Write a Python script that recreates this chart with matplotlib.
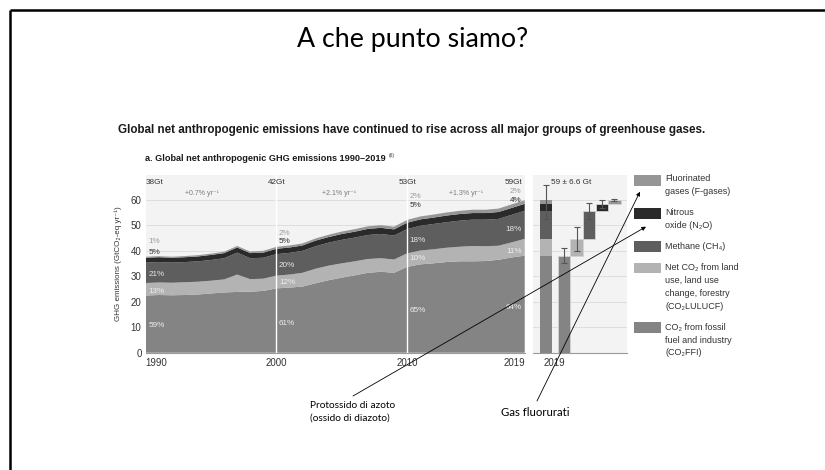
import matplotlib
matplotlib.use("Agg")
import matplotlib.pyplot as plt
from matplotlib.patches import Rectangle

# ---------------- data ----------------
years = list(range(1990, 2020))
co2_ffi = [22.4, 22.6, 22.5, 22.6, 22.8, 23.2, 23.6, 23.8, 23.9, 24.2,
           25.2, 25.5, 25.9, 27.2, 28.4, 29.4, 30.3, 31.3, 31.7, 31.3,
           33.6, 34.6, 35.0, 35.5, 35.8, 35.8, 35.9, 36.4, 37.3, 38.0]
co2_lulucf = [4.9, 4.9, 4.9, 5.0, 5.0, 5.0, 5.1, 6.8, 4.9, 4.8,
              5.0, 5.1, 5.4, 5.7, 5.7, 5.6, 5.5, 5.4, 5.3, 5.2,
              5.3, 5.4, 5.5, 5.6, 5.7, 6.0, 5.8, 5.5, 5.9, 6.6]
ch4 = [8.0, 8.0, 7.9, 7.9, 8.0, 8.1, 8.3, 8.6, 8.2, 8.2,
       8.4, 8.5, 8.6, 8.8, 9.0, 9.2, 9.3, 9.4, 9.5, 9.4,
       9.5, 9.7, 9.9, 10.0, 10.2, 10.3, 10.4, 10.5, 10.8, 11.0]
n2o = [1.9, 1.9, 1.9, 1.9, 1.9, 2.0, 2.0, 2.0, 2.0, 2.0,
       2.1, 2.1, 2.1, 2.2, 2.2, 2.3, 2.3, 2.4, 2.4, 2.4,
       2.5, 2.5, 2.5, 2.6, 2.6, 2.6, 2.6, 2.7, 2.7, 2.7]
fgas = [0.4, 0.4, 0.4, 0.45, 0.5, 0.5, 0.55, 0.6, 0.6, 0.7,
        0.75, 0.8, 0.8, 0.85, 0.9, 0.95, 1.0, 1.0, 1.05, 1.05,
        1.1, 1.15, 1.2, 1.2, 1.25, 1.3, 1.3, 1.35, 1.4, 1.4]

gas_names = ["Fluorinated\ngases (F-gases)", "Nitrous\noxide (N\u2082O)", "Methane (CH\u2084)",
             "Net CO\u2082 from land\nuse, land use\nchange, forestry\n(CO\u2082LULUCF)",
             "CO\u2082 from fossil\nfuel and industry\n(CO\u2082FFI)"]

label_years = [1990, 2000, 2010, 2019]
total_labels = ["38Gt", "42Gt", "53Gt", "59Gt"]
growth_labels = ["+0.7% yr\u207b\u00b9", "+2.1% yr\u207b\u00b9", "+1.3% yr\u207b\u00b9"]
share_fgas = ["1%", "2%", "2%", "2%"]
share_n2o = ["5%", "5%", "5%", "4%"]
share_ch4 = ["21%", "20%", "18%", "18%"]
share_lulucf = ["13%", "12%", "10%", "11%"]
share_ffi = ["59%", "61%", "65%", "64%"]

# 2019 uncertainty panel: FFI, LULUCF, CH4, N2O, F-gases
wf_values = [38.0, 6.6, 11.0, 2.7, 1.4]
wf_errors = [3.0, 4.6, 3.2, 1.6, 0.41]
total_2019 = 59.0
total_2019_err = 6.6

# ---------------- style ----------------
C_FFI = "#848484"
C_LUL = "#b3b3b3"
C_CH4 = "#5e5e5e"
C_N2O = "#2a2a2a"
C_FG = "#969696"
PANEL = "#f3f3f3"
GRID = "#dedede"
NARROW = ["Liberation Sans", "DejaVu Sans"]
SLIDE = ["Lato", "DejaVu Sans"]

W, H = 825, 470
fig = plt.figure(figsize=(W / 100, H / 100), dpi=100)
fig.patch.set_facecolor("white")


def px_axes(x0, y0, x1, y1):
    return fig.add_axes([x0 / W, 1 - y1 / H, (x1 - x0) / W, (y1 - y0) / H])


YMAX = 69.6
# ---------------- main area chart ----------------
ax = px_axes(145.7, 175, 524.7, 352.7)
ax.set_facecolor(PANEL)
ax.stackplot(years, co2_ffi, co2_lulucf, ch4, n2o, fgas,
             colors=[C_FFI, C_LUL, C_CH4, C_N2O, C_FG], linewidth=0, zorder=2)
ax.set_xlim(1990, 2019)
ax.set_ylim(0, YMAX)
ax.set_yticks(range(0, 61, 10))
for v in range(10, 61, 10):
    ax.axhline(v, color=GRID, lw=0.7, zorder=1)
for yr in (2000, 2010):
    ax.axvline(yr, color="white", lw=1.0, zorder=3)
for s in ["top", "right", "left"]:
    ax.spines[s].set_visible(False)
ax.spines["bottom"].set_color("#9a9a9a")
ax.spines["bottom"].set_linewidth(0.8)
ax.tick_params(axis="y", length=0, pad=3, labelsize=7.0, labelcolor="#333333")
ax.tick_params(axis="x", length=0, pad=4, labelsize=7.0, labelcolor="#333333")
ax.set_xticks(label_years)
ax.set_xticklabels([str(y) for y in label_years])
xt = ax.get_xticklabels()
xt[0].set_ha("left")
xt[-1].set_ha("right")
for t in ax.get_xticklabels() + ax.get_yticklabels():
    t.set_family(NARROW)
ax.set_ylabel("GHG emissions (GtCO\u2082-eq yr\u207b\u00b9)", fontsize=5.8,
              family=NARROW, color="#333333", labelpad=6)

# totals and growth rates
for yr, lab in zip(label_years, total_labels):
    ha = "left" if yr == 1990 else ("right" if yr == 2019 else "center")
    xx = yr + (-0.15 if yr == 2019 else 0)
    ax.text(xx, 66.6, lab, ha=ha, va="center", fontsize=5.9, family=NARROW,
            color="#333333", zorder=5)
for (a, b), lab in zip([(1990, 2000), (2000, 2010), (2010, 2019)], growth_labels):
    xm = {1990: 1994.3, 2000: 2004.8, 2010: 2014.5}[a]
    ax.text(xm, 62.4, lab, ha="center", va="center", fontsize=5.0, family=NARROW,
            color="#7a7a7a", zorder=5)

# share labels
share_pos = {1990: [43.4, 39.4, 30.7, 24.0, 10.8],
             2000: [46.5, 43.6, 34.2, 27.3, 11.6],
             2010: [61.0, 57.6, 43.9, 36.7, 16.7],
             2019: [63.1, 59.5, 48.3, 39.8, 17.8]}
share_cols = ["#9c9c9c", "#333333", "#e6e6e6", "#eeeeee", "#eeeeee"]
for i, yr in enumerate(label_years):
    labs = [share_fgas[i], share_n2o[i], share_ch4[i], share_lulucf[i], share_ffi[i]]
    if yr == 2019:
        xx, ha = yr - 0.25, "right"
    else:
        xx, ha = yr + 0.2, "left"
    for lab, yy, col in zip(labs, share_pos[yr], share_cols):
        ax.text(xx, yy, lab, ha=ha, va="center", fontsize=5.9, family=NARROW,
                color=col, zorder=5)

# ---------------- 2019 uncertainty panel ----------------
bx = px_axes(533, 175, 627, 352.7)
bx.set_facecolor(PANEL)
bx.set_xlim(-1.03, 6.43)
bx.set_ylim(0, YMAX)
for v in range(10, 61, 10):
    bx.axhline(v, color=GRID, lw=0.7, zorder=1)
cols = [C_FFI, C_LUL, C_CH4, C_N2O, C_FG]
bottom = 0
for val, col in zip(wf_values, cols):
    bx.bar(0, val, bottom=bottom, width=0.95, color=col, linewidth=0, zorder=2)
    bottom += val
bx.errorbar(0, total_2019, yerr=total_2019_err, color="#555555", lw=0.8,
            capsize=2.5, capthick=0.8, zorder=4)
base = 0
for i, (val, err, col) in enumerate(zip(wf_values, wf_errors, cols)):
    xpos = 1.43 + i
    bx.bar(xpos, val, bottom=base, width=0.98, color=col,
           edgecolor="#d4d4d4", linewidth=0.6, zorder=2)
    bx.errorbar(xpos, base + val, yerr=err, color="#555555", lw=0.8,
                capsize=2.5, capthick=0.8, zorder=4)
    base += val
bx.text(2.0, 66.6, f"{total_2019:.0f} \u00b1 {total_2019_err} Gt", ha="center",
        va="center", fontsize=5.9, family=NARROW, color="#333333")
for s in ["top", "right", "left"]:
    bx.spines[s].set_visible(False)
bx.spines["bottom"].set_color("#9a9a9a")
bx.spines["bottom"].set_linewidth(0.8)
bx.set_yticks([])
bx.set_xticks([0.7])
bx.set_xticklabels(["2019"])
bx.tick_params(axis="x", length=0, pad=4, labelsize=7.0, labelcolor="#333333")
for t in bx.get_xticklabels():
    t.set_family(NARROW)

# ---------------- overlay: slide texts, legend, arrows ----------------
ov = fig.add_axes([0, 0, 1, 1], zorder=10)
ov.set_xlim(0, W)
ov.set_ylim(H, 0)
ov.axis("off")
ov.patch.set_alpha(0)

# slide frame
ov.plot([9.5, 9.5], [9.5, H], color="black", lw=1.8, solid_capstyle="butt")
ov.plot([9.5, W], [9.5, 9.5], color="black", lw=1.8, solid_capstyle="butt")

ov.text(413, 40, "A che punto siamo?", ha="center", va="center", fontsize=19.3,
        family=SLIDE, color="black")
ov.text(412, 130, "Global net anthropogenic emissions have continued to rise across all major groups of greenhouse gases.",
        ha="center", va="center", fontsize=8.4, family=NARROW, fontweight="bold",
        color="#1a1a1a")
ov.text(145, 158.5, "a. Global net anthropogenic GHG emissions 1990\u20132019",
        ha="left", va="center", fontsize=6.6, family=NARROW, fontweight="bold",
        color="#1a1a1a")
ov.text(389, 156, "(6)", ha="left", va="center", fontsize=3.6, family=NARROW,
        color="#333333")

# legend
leg_boxes = [(175, 185.7), (208, 219), (241, 251.7), (262.7, 273.3), (322.3, 333)]
leg_text_y = [179.3, 212.7, 246.7, 268.3, 327.7]
for name, col, (y0, y1), ty in zip(gas_names, [C_FG, C_N2O, C_CH4, C_LUL, C_FFI],
                                  leg_boxes, leg_text_y):
    ov.add_patch(Rectangle((634, y0), 26.7, y1 - y0, color=col, lw=0))
    ov.text(665, ty - 5.0, name, ha="left", va="top", fontsize=6.5, family=NARROW,
            color="#333333", linespacing=1.55)

# annotations
ov.annotate("", xy=(646, 226.7), xytext=(353, 396),
            arrowprops=dict(arrowstyle="-|>", color="black", lw=0.6,
                            mutation_scale=6, shrinkA=0, shrinkB=0))
ov.annotate("", xy=(640, 191.7), xytext=(537, 401),
            arrowprops=dict(arrowstyle="-|>", color="black", lw=0.6,
                            mutation_scale=6, shrinkA=0, shrinkB=0))
ov.text(309.5, 401, "Protossido di azoto\n(ossido di diazoto)", ha="left", va="top",
        fontsize=7.3, family=SLIDE, color="black", linespacing=1.5)
ov.text(501, 412.7, "Gas fluorurati", ha="left", va="center", fontsize=8.2,
        family=SLIDE, color="black")

fig.savefig("out.png", dpi=100)
